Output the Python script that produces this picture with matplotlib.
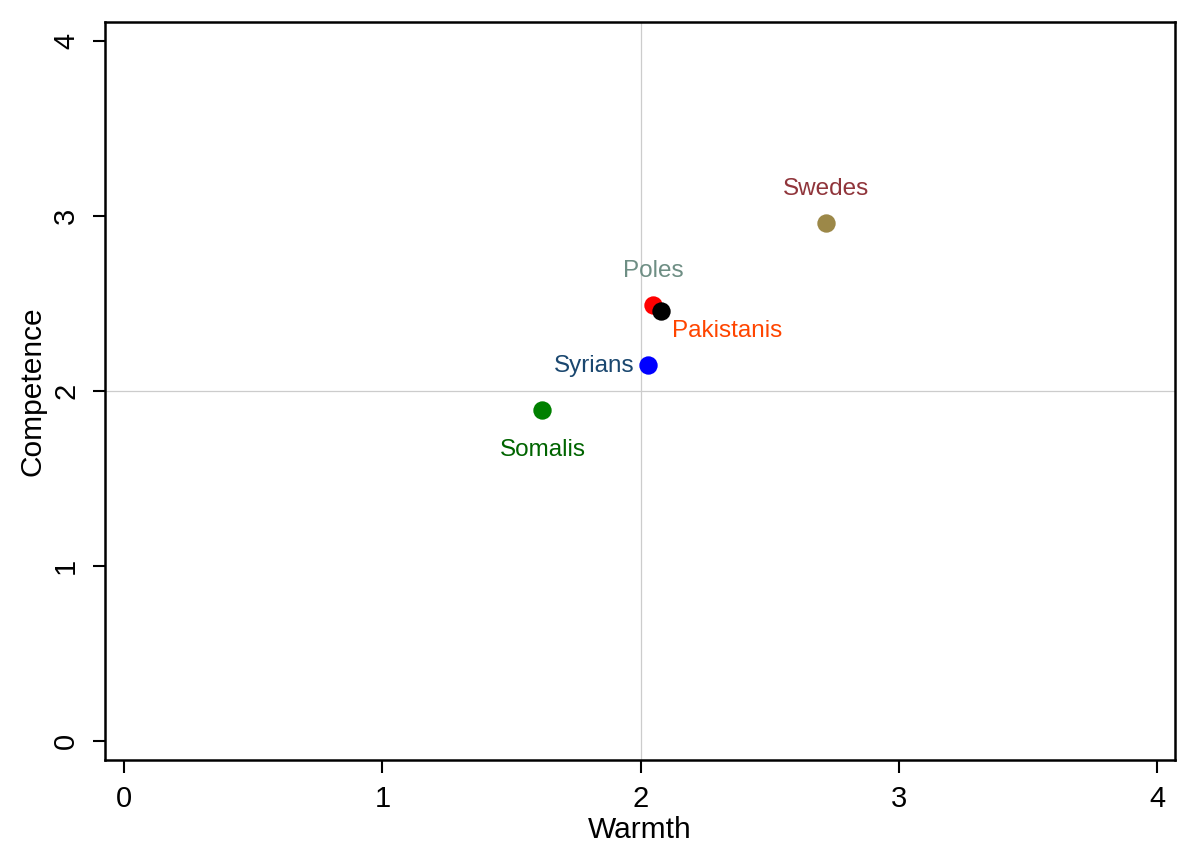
import matplotlib
matplotlib.use("Agg")
import matplotlib.pyplot as plt

plt.rcParams['font.family'] = ['Liberation Sans', 'DejaVu Sans']

# 數據
groups = ["Swedes", "Poles", "Pakistanis", "Syrians", "Somalis"]
warmth = [2.72, 2.05, 2.08, 2.03, 1.62]
competence = [2.96, 2.49, 2.46, 2.15, 1.89]
marker_colors = ['#9C8848', '#FF0000', '#000000', '#0000FF', '#008000']
label_colors = ['#90353B', '#6E8E84', '#FF4500', '#1A476F', '#006400']
# 標籤位置 (offset in points, ha, va)
label_offsets = [((0, 17), 'center', 'bottom'),
                 ((0, 17), 'center', 'bottom'),
                 ((8, -7), 'left', 'top'),
                 ((-10, -1), 'right', 'center'),
                 ((0, -21), 'center', 'top')]

ticks = [0, 1, 2, 3, 4]

fig = plt.figure(figsize=(12, 8.61), dpi=100)
ax = fig.add_axes([0.0875, 0.1173, 0.8917, 0.8572])

ax.axvline(2, color='#cccccc', linewidth=0.9, zorder=0)
ax.axhline(2, color='#cccccc', linewidth=0.9, zorder=0)

for g, x, y, mc, lc, (off, ha, va) in zip(groups, warmth, competence,
                                           marker_colors, label_colors, label_offsets):
    ax.scatter(x, y, s=175, color=mc, zorder=3, linewidths=0)
    ax.annotate(g, (x, y), xytext=off, textcoords='offset points',
                ha=ha, va=va, color=lc, fontsize=17.5)

ax.set_xlim(-0.074, 4.07)
ax.set_ylim(-0.109, 4.11)
ax.set_xticks(ticks)
ax.set_yticks(ticks)
ax.tick_params(axis='both', labelsize=21, length=9, width=1.5, direction='out', pad=9)
for lbl in ax.get_yticklabels():
    lbl.set_rotation(90)
    lbl.set_va('center')
for s in ax.spines.values():
    s.set_linewidth(1.8)

ax.set_xlabel('Warmth', fontsize=21.5, labelpad=2)
ax.set_ylabel('Competence', fontsize=21.5, labelpad=4)

fig.savefig('out.png', dpi=100)
